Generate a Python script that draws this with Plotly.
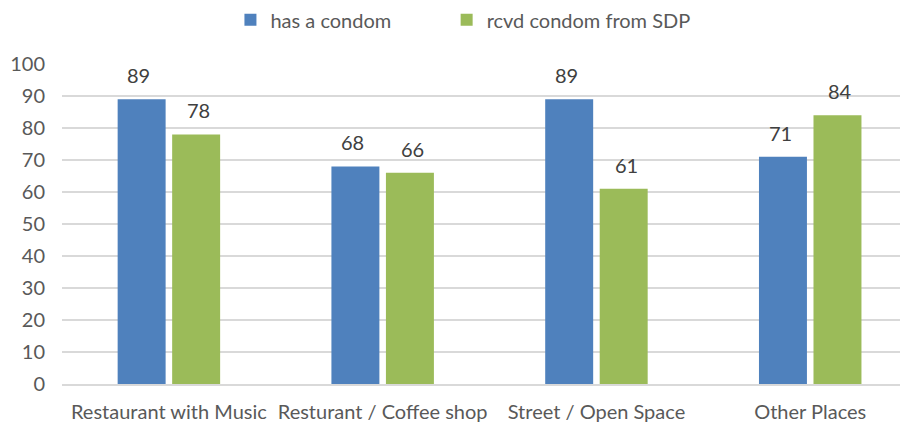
import plotly.graph_objects as go

categories = ["Restaurant with Music", "Resturant / Coffee shop", "Street / Open Space", "Other Places"]
has_condom = [89, 68, 89, 71]
rcvd_condom = [78, 66, 61, 84]
series_names = ["has a condom", "rcvd condom from SDP"]
series_colors = ["#4F81BD", "#9BBB59"]

FONT = "Lato"
TICK_GREY = "#595959"
LABEL_GREY = "#404040"
FS = 20

fig = go.Figure()
for name, vals, col, leg in zip(series_names, [has_condom, rcvd_condom], series_colors, ["legend", "legend2"]):
    fig.add_trace(go.Bar(
        x=categories, y=vals, name=name, legend=leg, showlegend=True,
        marker=dict(color=col, line=dict(width=0)),
    ))

# value labels above each bar, offset to the bar's slot within its group
for shift, vals in zip([-30, 30], [has_condom, rcvd_condom]):
    for cat, v in zip(categories, vals):
        fig.add_annotation(
            x=cat, y=v, xref="x", yref="y", text=f"{v:.0f}",
            showarrow=False, yanchor="bottom", xshift=shift, yshift=10,
            font=dict(family=FONT, size=FS, color=LABEL_GREY),
        )

legend_style = dict(
    orientation="h", xanchor="left", y=1.199, yanchor="top",
    font=dict(family=FONT, size=FS, color=TICK_GREY), itemwidth=30,
)

fig.update_layout(
    width=903, height=422,
    margin=dict(l=62, r=3, t=64, b=38, autoexpand=False),
    paper_bgcolor="white", plot_bgcolor="white",
    showlegend=True,
    barmode="group", bargap=0.49, bargroupgap=0.12,
    font=dict(family=FONT, size=FS, color=TICK_GREY),
    legend=dict(x=0.201, **legend_style),
    legend2=dict(x=0.459, **legend_style),
    xaxis=dict(
        range=[-0.5, 3.42], showgrid=False, zeroline=False,
        showline=True, linecolor="#D9D9D9", linewidth=1.5,
        ticks="", ticklabelstandoff=9, automargin=False,
        tickfont=dict(family=FONT, size=FS, color=TICK_GREY),
    ),
    yaxis=dict(
        range=[0, 100], dtick=10, showgrid=True, gridcolor="#D9D9D9", gridwidth=1.5,
        zeroline=False, showline=False, ticks="", ticklabelstandoff=16, automargin=False,
        tickfont=dict(family=FONT, size=FS, color=TICK_GREY),
    ),
)

fig.write_html("out.html")
